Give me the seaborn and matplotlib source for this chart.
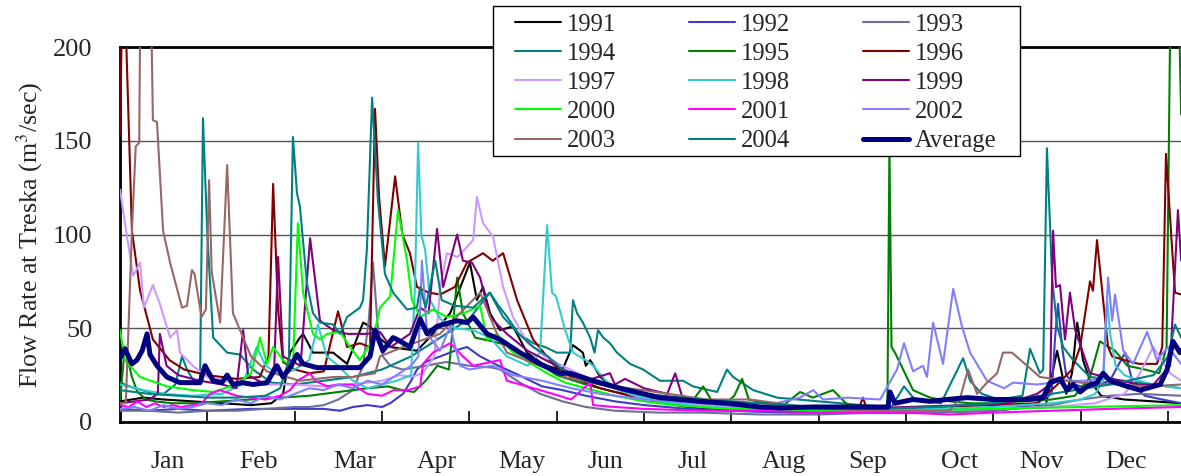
import matplotlib
matplotlib.use("Agg")
import matplotlib.pyplot as plt
from matplotlib.lines import Line2D
from matplotlib.patches import Rectangle
import numpy as np
import pandas as pd
import seaborn as sns

# ---------------- data (day of year, flow m3/s) ----------------
d1991 = [0, 8, 15, 25, 35, 45, 52, 56, 58.4, 61.8, 62.9, 66.3, 73.2, 78, 83.5, 85.9, 89, 92.8, 102, 107.5, 113.4, 120.2, 122.6, 124.7, 127.1, 130.5, 135, 139.8, 146, 152, 155.6, 159, 160, 161.5, 165, 170, 180, 195, 210, 240, 270, 300, 318, 321.9, 325, 327, 328.8, 330.8, 333.2, 337, 345, 355, 364.5]
q1991 = [11, 13, 12, 11, 10, 9, 10, 15, 37, 45, 47, 37, 37, 31, 53, 51, 45, 40, 38, 47, 58, 85, 65, 72, 58, 49, 51, 37, 30, 28, 41, 37, 30, 33, 24, 18, 12, 8, 6, 5, 5, 6, 9, 38, 15, 26, 53, 33, 22, 14, 12, 11, 10]

d1992 = [0, 10, 20, 30, 45, 60, 70, 75.6, 80, 85, 90, 92.8, 97.2, 100, 102, 105, 110, 115, 119.2, 123.7, 130, 137, 145, 152, 160, 170, 180, 195, 210, 230, 250, 270, 290, 305, 315, 320, 321.2, 322.2, 323.6, 325, 328, 332, 336, 340, 345.3, 348, 352, 358, 364.5]
q1992 = [7, 6, 7, 6, 7, 7, 7, 6, 8, 9, 8, 10, 15, 22, 28, 32, 35, 38, 40, 35, 30, 25, 19, 17, 14, 11, 9, 7, 6, 5, 5, 5, 6, 7, 10, 15, 45, 63, 40, 25, 20, 18, 20, 22, 37, 20, 14, 12, 10]

d1993 = [0, 10, 20, 30, 40, 50, 60, 65, 70, 75, 80, 83.5, 85.5, 86.9, 88.6, 90.3, 92.8, 97, 105, 112, 120, 128, 130.5, 137.4, 144.3, 152, 160, 170, 185, 200, 220, 240, 260, 280, 300, 320, 330, 340, 350, 364.5]
q1993 = [6, 6, 5, 6, 6, 7, 8, 8, 9, 12, 17, 30, 55, 85, 50, 35, 30, 28, 30, 32, 30, 29, 28, 21, 15, 11, 8, 6, 5, 5, 4, 4, 5, 5, 6, 9, 12, 14, 15, 14]

d1994 = [0, 5, 10, 15, 19, 21.3, 23, 26, 27.5, 28.5, 30, 32, 35, 36.8, 41.2, 45.7, 52, 60, 70, 80, 90, 100, 110, 120, 125, 127.1, 130, 133, 137, 142, 146, 150, 154.6, 155.6, 157, 159, 161.5, 163, 164.2, 166, 168.3, 170.7, 175.2, 179.7, 185.5, 193.4, 196.8, 205.1, 208.5, 210.6, 217.5, 225.7, 240, 255, 265, 269.3, 273, 282, 289.6, 292, 296, 302, 310, 312.6, 316, 317.1, 318.4, 320.2, 321.9, 324, 327.4, 333.2, 345, 355, 364.5]
q1994 = [21, 18, 16, 15, 20, 35, 28, 20, 21, 162, 100, 45, 40, 37, 36, 28, 21, 20, 22, 24, 28, 35, 45, 55, 65, 69, 62, 56, 47, 42, 40, 37, 37, 65, 58, 53, 45, 37, 49, 45, 42, 37, 31, 28, 22, 22, 19, 16, 28, 24, 17, 13, 11, 9, 8, 19, 12, 10, 34, 22, 15, 12, 14, 39, 26, 28, 146, 76, 51, 40, 33, 24, 22, 20, 18]

d1995 = [0, 1.7, 4.1, 6, 9, 12, 18, 25, 35, 45, 55, 65, 75, 85, 92, 97, 101, 105, 109, 113, 115.8, 117.8, 122, 128, 135, 142, 150, 160, 170, 180, 190, 197, 200.3, 203, 208, 211, 213.7, 216, 222, 228, 233.6, 238, 244.9, 250, 256, 261, 263.6, 264.3, 265, 266.2, 269, 272.4, 278.3, 285, 292, 300, 310, 320, 328, 333.2, 336.6, 341.8, 346, 352, 357, 359.5, 360.8, 361.6, 362.6, 363.6, 364.5]
q1995 = [12, 40, 24, 16, 12, 11, 10, 10, 11, 12, 13, 14, 16, 18, 19, 17, 16, 22, 30, 28, 77, 58, 45, 43, 40, 33, 25, 20, 16, 13, 11, 12, 19, 12, 10, 14, 23, 12, 10, 9, 16, 13, 17, 9, 8, 7, 7, 148, 40, 37, 28, 17, 13, 11, 10, 10, 11, 12, 14, 24, 43, 38, 30, 28, 26, 40, 220, 260, 250, 230, 164]

d1996 = [0, 0.6, 1.2, 2, 4.1, 6.9, 11.3, 17, 22, 30, 40, 48, 51, 52.6, 54.3, 56, 60, 65, 70, 74.9, 78, 82.4, 85.9, 87.6, 89, 91, 94.5, 97, 99.6, 102, 106, 110, 115, 119.2, 124.7, 128, 131.6, 136.4, 141.9, 148.7, 155, 165, 180, 200, 225, 250, 254, 255.2, 256.5, 265, 280, 300, 315, 322, 327, 329.8, 333.2, 334.2, 335.6, 337.7, 339.4, 340.8, 345, 350, 356.2, 358, 359.3, 361.5, 362.4, 364.5]
q1996 = [153, 210, 215, 210, 102, 70, 44, 33, 28, 25, 23, 24, 35, 127, 60, 32, 28, 26, 27, 59, 40, 42, 40, 167, 120, 83, 131, 100, 90, 72, 69, 68, 72, 85, 90, 86, 90, 65, 44, 31, 24, 18, 12, 8, 6, 6, 8, 13, 7, 7, 8, 9, 10, 20, 28, 40, 75, 70, 97, 65, 40, 35, 33, 31, 31, 40, 143, 90, 69, 68]

d1997 = [0, 1.7, 4.5, 6.9, 8.2, 11.3, 13.7, 17.2, 19.6, 20.6, 25, 30, 40, 50, 60, 70, 80, 90, 96, 100, 104, 108, 110, 112.3, 116, 119, 121.3, 122.6, 124.7, 127.1, 128.1, 131.6, 135, 140, 146, 152, 160, 170, 180, 200, 220, 240, 260, 280, 300, 320, 335, 345, 350, 354.9, 360.7, 364.5]
q1997 = [124, 106, 78, 85, 61, 73, 63, 45, 49, 37, 30, 24, 21, 20, 20, 19, 20, 22, 25, 24, 26, 35, 72, 90, 88, 93, 97, 120, 106, 101, 99, 72, 56, 42, 35, 30, 24, 18, 12, 9, 7, 6, 6, 6, 7, 8, 10, 15, 25, 40, 26, 22]

d1998 = [0, 8, 15, 25, 35, 42, 47, 50, 55, 60, 65, 68, 71, 75, 80, 85, 90, 95, 100, 101.3, 102.4, 103.5, 104.8, 106.5, 110, 115, 121.3, 127, 132.9, 140, 144.3, 146.7, 148.4, 149.8, 152.9, 155.6, 160, 162.5, 168, 175, 185, 200, 220, 240, 260, 280, 300, 320, 330, 335, 337.7, 339.1, 340.1, 342, 345, 350, 355, 364.5]
q1998 = [20, 17, 15, 14, 15, 20, 40, 30, 25, 28, 33, 52, 35, 30, 22, 18, 20, 22, 25, 72, 149, 100, 92, 65, 55, 50, 49, 45, 35, 30, 37, 105, 69, 67, 49, 37, 33, 30, 20, 15, 11, 8, 7, 6, 6, 7, 8, 10, 12, 15, 22, 65, 47, 30, 25, 22, 20, 18]

d1999 = [0, 5, 10, 13, 13.7, 16, 20, 27.5, 35, 40, 42.3, 44, 50, 53, 54.3, 56, 62, 65.3, 68.7, 73.2, 78, 84.8, 89.3, 93, 99.6, 103.1, 106, 108.9, 111, 115.8, 117.8, 120.9, 123.7, 127.1, 132.9, 140, 150, 160, 168.3, 170, 173.5, 180, 188, 190.7, 193, 200, 220, 250, 270, 290, 305, 315, 319.5, 320.5, 321.5, 322.9, 324.6, 326.3, 328.1, 333.2, 343.5, 350, 355, 360.7, 363.4, 364.5]
q1999 = [10, 11, 12, 15, 47, 30, 25, 22, 20, 18, 49, 25, 20, 30, 88, 35, 30, 98, 54, 49, 47, 47, 48, 40, 47, 61, 58, 103, 72, 100, 86, 85, 77, 56, 47, 38, 30, 22, 26, 20, 23, 18, 15, 26, 14, 10, 8, 7, 8, 9, 10, 15, 20, 102, 72, 73, 44, 69, 49, 26, 22, 20, 20, 30, 113, 86]

d2000 = [0, 1.7, 6.9, 16.1, 25, 32, 40, 45, 48.1, 50.5, 52.6, 56, 59.4, 61.1, 62.9, 66.3, 68.7, 71.1, 75.6, 79, 82.4, 86.9, 89.3, 92.8, 95.5, 98.6, 100.3, 103.1, 107.5, 112.3, 118, 123.7, 126.1, 129.5, 135, 146.7, 152.9, 160, 170, 180, 190, 210, 240, 270, 300, 330, 364.5]
q2000 = [49, 33, 24, 19, 17, 16, 20, 26, 45, 31, 40, 33, 29, 106, 69, 47, 44, 47, 48, 40, 33, 44, 61, 67, 113, 86, 65, 56, 60, 56, 58, 62, 44, 47, 37, 26, 21, 18, 14, 11, 9, 7, 6, 6, 7, 8, 9]

d2001 = [0, 3, 6, 9, 12, 15, 18, 21, 25, 28, 31, 34.4, 40, 45, 50, 55, 58.4, 61, 65.3, 67, 71.1, 75, 80, 85, 90, 94, 99, 103.1, 104.1, 107.5, 113.4, 117.8, 121.3, 130.5, 132.9, 139.8, 148.7, 155, 161.5, 162.5, 170, 180, 200, 220, 240, 260, 270, 285, 300, 320, 340, 364.5]
q2001 = [9, 8, 11, 8, 10, 8, 9, 8, 9, 10, 15, 17, 14, 13, 12, 14, 17, 22, 26, 22, 19, 20, 20, 15, 14, 17, 17, 19, 31, 37, 42, 35, 30, 33, 22, 19, 15, 12, 21, 9, 8, 7, 6, 6, 5, 5, 5, 4, 5, 6, 7, 8]

d2002 = [0, 5, 10, 15, 20, 25, 30, 35, 40, 45, 50, 55, 60, 65, 70, 75, 80, 85, 90, 95, 100, 102.5, 103.7, 105.5, 109.9, 113.4, 116.8, 120, 128, 135, 145, 155, 165, 180, 200, 220, 233.6, 238.1, 241.5, 250, 261.1, 266.9, 269.3, 272.4, 275.8, 277.2, 279.3, 282.7, 286.2, 289.2, 292, 297.8, 303.7, 306.8, 315, 325, 333, 337.7, 339.4, 340.8, 341.8, 344.6, 348, 352.8, 356.2, 360, 364.5]
q2002 = [7, 8, 6, 9, 7, 8, 10, 9, 12, 10, 14, 12, 15, 18, 17, 20, 18, 22, 20, 25, 30, 35, 86, 47, 38, 51, 30, 28, 30, 25, 22, 18, 15, 12, 10, 8, 13, 17, 12, 13, 12, 28, 42, 27, 30, 24, 53, 31, 71, 51, 37, 22, 18, 21, 20, 22, 22, 24, 77, 54, 68, 38, 31, 48, 33, 40, 31]

d2003 = [0, 2, 4.1, 5.4, 6.6, 6.9, 10.8, 11.3, 12.7, 14.8, 17.2, 21.3, 23, 24.7, 25.6, 28, 29.5, 30.6, 31.5, 34.4, 36.8, 38.8, 45, 50.5, 61.8, 73.2, 80, 87.6, 89.3, 97.2, 109.9, 123.7, 129.5, 132.9, 144.3, 152.9, 165, 179.7, 201.6, 216.4, 240, 260, 285, 288.6, 291.3, 294.4, 297.8, 301.3, 303.3, 306.4, 316, 330, 353.8, 364.5]
q2003 = [10, 10, 102, 147, 149, 210, 210, 161, 160, 102, 85, 61, 62, 81, 79, 56, 60, 129, 80, 53, 137, 58, 35, 27, 22, 24, 24, 26, 35, 40, 47, 69, 47, 37, 30, 24, 20, 17, 12, 12, 7, 6, 6, 13, 28, 15, 21, 26, 37, 37, 24, 21, 19, 20]

d2004 = [0, 10, 20, 30, 40, 50, 55, 58, 59.4, 60.8, 61.8, 64.2, 66.3, 68.7, 73.2, 75.6, 78, 82.4, 83.5, 84.8, 86.6, 88.6, 91, 93.8, 98.6, 102, 103.1, 105, 108.3, 110.5, 115, 121.3, 127, 131.6, 137, 142, 147, 152, 160, 170, 180, 200, 220, 240, 260, 280, 300, 320, 340, 355, 360, 362.4, 364.5]
q2004 = [17, 15, 14, 13, 13, 14, 18, 33, 152, 122, 115, 74, 58, 53, 52, 47, 56, 61, 65, 92, 173, 118, 79, 69, 60, 61, 72, 61, 86, 65, 62, 61, 69, 56, 47, 40, 35, 28, 22, 18, 15, 12, 10, 8, 7, 8, 10, 15, 20, 25, 35, 52, 45]

d_avg = [0, 0.7, 1.7, 4.1, 5.8, 7.6, 9.3, 10.3, 12.7, 16.1, 20.6, 25, 27.5, 29.2, 32, 35, 36.8, 38.8, 42, 45.7, 50.5, 53.9, 56, 58.4, 60.8, 62.9, 67.7, 71.1, 75.6, 80, 82.4, 85.9, 87.6, 90.3, 93.8, 95.2, 99.6, 103.1, 105.5, 108.9, 113.4, 115.8, 119.2, 121.3, 126.1, 130.5, 137.4, 144.3, 151.2, 154.6, 162.5, 174.2, 185.5, 199.2, 208.5, 219.9, 226.7, 238, 249.7, 261.1, 263.8, 264.5, 266.2, 272.4, 278.3, 284.1, 291, 299.9, 311.6, 317.1, 319.5, 322.9, 325.3, 327.4, 329.8, 332.2, 335.6, 337.7, 340.1, 345.9, 350.4, 357.3, 359.7, 361.7, 364.1, 364.5]
q_avg = [34, 36, 39, 31, 33, 38, 47, 36, 30, 24, 21, 21, 21, 30, 22, 21, 25, 20, 21, 20, 21, 30, 24, 29, 36, 31, 29, 29, 29, 29, 29, 35, 49, 38, 45, 44, 40, 55, 47, 51, 53, 54, 53, 56, 47, 44, 37, 31, 26, 26, 22, 17, 13, 11, 10, 8, 7.5, 8, 8, 8, 8, 16, 10, 12, 11, 12, 13, 12, 12, 13, 21, 23, 17, 20, 16, 19, 21, 26, 22, 19, 17, 20, 28, 43, 37, 38]

years = ["1991", "1992", "1993", "1994", "1995", "1996", "1997",
         "1998", "1999", "2000", "2001", "2002", "2003", "2004"]
colors = ["#000000", "#3c3cc8", "#6e6e9a", "#008080", "#008000", "#800000",
          "#cc99ff", "#33cccc", "#800080", "#00ff00", "#ff00ff", "#8080ff",
          "#996666", "#008080"]
months = ["Jan", "Feb", "Mar", "Apr", "May", "Jun",
          "Jul", "Aug", "Sep", "Oct", "Nov", "Dec"]
month_label_pos = [16.5, 47.7, 80.5, 108.9, 138, 166.6, 196.5, 228, 256.8, 288.4, 316.6, 345.6]
month_ticks = [30, 60, 90, 120, 150, 180, 210, 240, 270, 300, 330, 360]

series_days = [d1991, d1992, d1993, d1994, d1995, d1996, d1997, d1998, d1999, d2000, d2001, d2002, d2003, d2004]
series_vals = [q1991, q1992, q1993, q1994, q1995, q1996, q1997, q1998, q1999, q2000, q2001, q2002, q2003, q2004]

frames = []
for yr, dd, qq in zip(years, series_days, series_vals):
    frames.append(pd.DataFrame({"day": dd, "flow": qq, "year": yr}))
df = pd.concat(frames, ignore_index=True)
df_avg = pd.DataFrame({"day": d_avg, "flow": q_avg})

# ---------------- style ----------------
sns.set_style("white")
plt.rcParams["font.family"] = ["Liberation Serif", "DejaVu Serif"]
plt.rcParams["mathtext.fontset"] = "stix"

W, H = 1181, 476
fig = plt.figure(figsize=(W / 100, H / 100), dpi=100)
ax = fig.add_axes([120 / W, 54 / H, 1062.6 / W, 375 / H])

palette = dict(zip(years, colors))
sns.lineplot(data=df, x="day", y="flow", hue="year", hue_order=years,
             palette=palette, estimator=None, linewidth=1.5, legend=False,
             ax=ax, zorder=3)
sns.lineplot(data=df_avg, x="day", y="flow", color="#000080",
             linewidth=3.6, estimator=None, ax=ax, zorder=4)

ax.set_xlim(0, 365)
ax.set_ylim(0, 200)
ax.set_yticks([0, 50, 100, 150, 200])
ax.set_yticklabels(["0", "50", "100", "150", "200"])
ax.yaxis.grid(True, color="#555555", linewidth=1.0)
ax.set_axisbelow(True)

ax.set_xticks(month_ticks)
ax.set_xticklabels([""] * len(month_ticks))
ax.set_xticks(month_label_pos, minor=True)
ax.set_xticklabels(months, minor=True)
ax.tick_params(axis="x", which="major", direction="in", length=8, width=1.2,
               color="black", bottom=True)
ax.tick_params(axis="x", which="minor", length=0, pad=21, labelsize=18.5)
ax.tick_params(axis="y", which="major", length=0, pad=20, labelsize=19)

for s in ["left", "bottom", "top"]:
    ax.spines[s].set_visible(True)
    ax.spines[s].set_color("black")
    ax.spines[s].set_linewidth(2.0)
ax.spines["right"].set_visible(False)

ax.set_xlabel("")
ax.set_ylabel("Flow Rate at Treska (m$^3$/sec)", fontsize=18.7)
ax.yaxis.set_label_coords(-0.0703, 0.5)

# legend frame drawn as a fixed box
frame = Rectangle((493 / W, 1 - 156 / H), 527 / W, 150 / H,
                  transform=fig.transFigure, facecolor="white",
                  edgecolor="black", linewidth=1.0, clip_on=False, zorder=9)
ax.add_patch(frame)

# legend (row-wise ordering in 3 columns)
handles = {yr: Line2D([], [], color=c, linewidth=1.5) for yr, c in zip(years, colors)}
handles["Average"] = Line2D([], [], color="#000080", linewidth=3.6)
order = ["1991", "1994", "1997", "2000", "2003",
         "1992", "1995", "1998", "2001", "2004",
         "1993", "1996", "1999", "2002", "Average"]
leg = ax.legend([handles[k] for k in order], order, ncol=3,
                loc="upper left", bbox_to_anchor=(515 / W, 1 - 13.6 / H),
                bbox_transform=fig.transFigure, borderaxespad=0,
                fontsize=17.7, frameon=False, handlelength=1.87,
                handletextpad=0.24, columnspacing=2.97, labelspacing=0.28,
                borderpad=0)
leg.set_zorder(10)

fig.savefig("out.png", dpi=100)
